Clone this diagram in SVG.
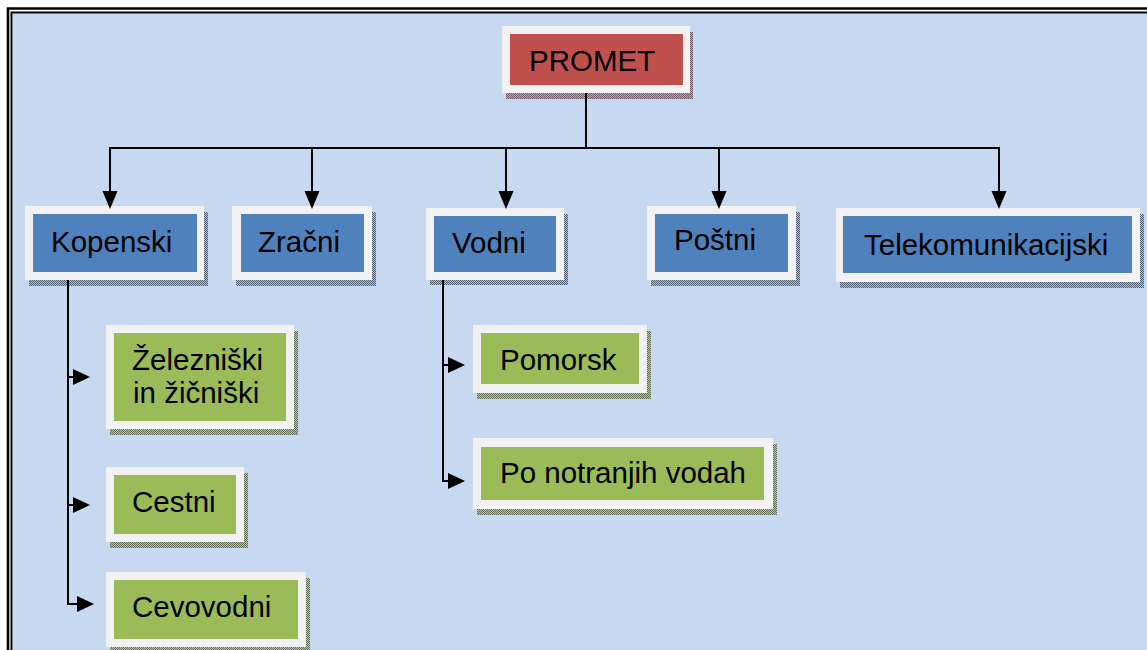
<svg xmlns="http://www.w3.org/2000/svg" width="1147" height="650" viewBox="0 0 1147 650">
<defs>
<pattern id="shR" width="2" height="2" patternUnits="userSpaceOnUse"><rect width="2" height="2" fill="#b9a9bb"/><rect width="1" height="1" fill="#6f5868"/><rect x="1" y="1" width="1" height="1" fill="#6f5868"/></pattern>
<pattern id="shB" width="2" height="2" patternUnits="userSpaceOnUse"><rect width="2" height="2" fill="#b3c1d4"/><rect width="1" height="1" fill="#4f5d72"/><rect x="1" y="1" width="1" height="1" fill="#4f5d72"/></pattern>
<pattern id="shG" width="2" height="2" patternUnits="userSpaceOnUse"><rect width="2" height="2" fill="#b8c6b4"/><rect width="1" height="1" fill="#5c6a50"/><rect x="1" y="1" width="1" height="1" fill="#5c6a50"/></pattern>
<path id="ahD" d="M-7.5,-18 L7.5,-18 L0,0 z"/>
<path id="ahR" d="M-17,-8 L0,0 L-17,8 z"/>
</defs>
<style>
.frame{fill:#F2F2F2}
.red{fill:#C0504D}
.blue{fill:#4F81BD}
.green{fill:#9BBB59}
.t{font-family:"Liberation Sans",Arial,sans-serif;font-size:29.5px;fill:#000}
.c{fill:none;stroke:#000;stroke-width:2}
.h{fill:#000}
</style>
<rect x="0" y="0" width="1147" height="650" fill="#fff"/>
<rect x="13" y="13.5" width="1140" height="640" fill="#C6D9F0"/>
<path d="M8,660 V8.5 H1150" fill="none" stroke="#000" stroke-width="2.6"/>
<path d="M11.5,660 V12.5 H1150" fill="none" stroke="#000" stroke-width="2"/>

<g id="promet">
<rect x="506" y="32" width="187" height="67" fill="url(#shR)"/>
<rect class="frame" x="502" y="26" width="188" height="67"/>
<rect class="red" x="510" y="34" width="173" height="51"/>
<text class="t" x="529" y="71">PROMET</text>
</g>

<g id="kopenski">
<rect x="29" y="212" width="179" height="74" fill="url(#shB)"/>
<rect class="frame" x="25" y="206" width="179" height="74"/>
<rect class="blue" x="33" y="214" width="164" height="58"/>
<text class="t" x="51" y="252">Kopenski</text>
</g>

<g id="zracni">
<rect x="236" y="212" width="140" height="74" fill="url(#shB)"/>
<rect class="frame" x="232" y="206" width="140" height="74"/>
<rect class="blue" x="241" y="214" width="123" height="58"/>
<text class="t" x="258" y="252">Zračni</text>
</g>

<g id="vodni">
<rect x="430" y="214" width="138" height="71" fill="url(#shB)"/>
<rect class="frame" x="426" y="208" width="138" height="72"/>
<rect class="blue" x="434" y="216" width="122" height="56"/>
<text class="t" x="452" y="253">Vodni</text>
</g>

<g id="postni">
<rect x="651" y="212" width="149" height="74" fill="url(#shB)"/>
<rect class="frame" x="647" y="206" width="149" height="74"/>
<rect class="blue" x="655" y="214" width="133" height="58"/>
<text class="t" x="674" y="250">Poštni</text>
</g>

<g id="telekomunikacijski">
<rect x="840" y="214" width="304" height="74" fill="url(#shB)"/>
<rect class="frame" x="836" y="208" width="304" height="74"/>
<rect class="blue" x="843" y="216" width="289" height="57"/>
<text class="t" x="864" y="255">Telekomunikacijski</text>
</g>

<g id="zelezniski">
<rect x="110" y="331" width="188" height="104" fill="url(#shG)"/>
<rect class="frame" x="106" y="325" width="188" height="104"/>
<rect class="green" x="114" y="333" width="172" height="88"/>
<text class="t" x="132" y="370">Železniški</text>
<text class="t" x="133" y="403">in žičniški</text>
</g>

<g id="cestni">
<rect x="110" y="473" width="138" height="75" fill="url(#shG)"/>
<rect class="frame" x="106" y="467" width="138" height="75"/>
<rect class="green" x="114" y="475" width="122" height="59"/>
<text class="t" x="132" y="512">Cestni</text>
</g>

<g id="cevovodni">
<rect x="110" y="578" width="200" height="75" fill="url(#shG)"/>
<rect class="frame" x="106" y="572" width="200" height="75"/>
<rect class="green" x="114" y="580" width="184" height="59"/>
<text class="t" x="132" y="617">Cevovodni</text>
</g>

<g id="pomorsk">
<rect x="477" y="331" width="174" height="68" fill="url(#shG)"/>
<rect class="frame" x="473" y="325" width="174" height="68"/>
<rect class="green" x="481" y="333" width="158" height="51"/>
<text class="t" x="500" y="370">Pomorsk</text>
</g>

<g id="po-notranjih-vodah">
<rect x="477" y="444" width="300" height="71" fill="url(#shG)"/>
<rect class="frame" x="473" y="438" width="300" height="71"/>
<rect class="green" x="481" y="447" width="283" height="53"/>
<text class="t" x="500" y="483">Po notranjih vodah</text>
</g>

<g id="connectors">
<path class="c" d="M586,93 V148"/>
<path class="c" d="M109,148 H1000"/>
<path class="c" d="M110,148 V195"/>
<path class="c" d="M312,148 V195"/>
<path class="c" d="M506,148 V195"/>
<path class="c" d="M719,148 V195"/>
<path class="c" d="M999,148 V195"/>
<use class="h" href="#ahD" x="110" y="209"/>
<use class="h" href="#ahD" x="312" y="209"/>
<use class="h" href="#ahD" x="506" y="209"/>
<use class="h" href="#ahD" x="719" y="209"/>
<use class="h" href="#ahD" x="999" y="209"/>
<path class="c" d="M68,280 V604"/>
<path class="c" d="M68,377 H76"/>
<path class="c" d="M68,505 H76"/>
<path class="c" d="M67,604 H80"/>
<use class="h" href="#ahR" x="90" y="377"/>
<use class="h" href="#ahR" x="90" y="505"/>
<use class="h" href="#ahR" x="94" y="604"/>
<path class="c" d="M443,280 V481"/>
<path class="c" d="M443,365 H452"/>
<path class="c" d="M442,481 H452"/>
<use class="h" href="#ahR" x="465" y="365"/>
<use class="h" href="#ahR" x="465" y="481"/>
</g>
</svg>
